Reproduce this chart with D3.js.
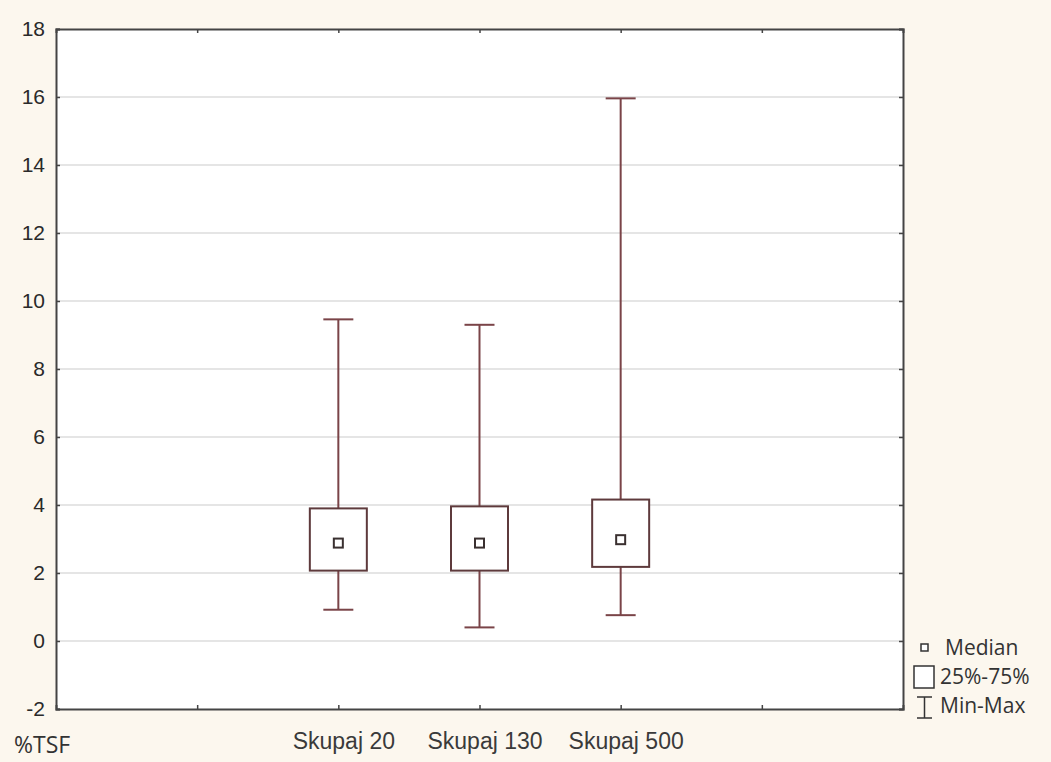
<!DOCTYPE html>
<html>
  <head>
    <meta charset="utf-8">
    <script src="https://d3js.org/d3.v7.min.js"></script>
    <style>
      body { margin: 0; background: #fcf7ee; }
      svg { display: block; font-family: "Open Sans", Arial, sans-serif; }
    </style>
  </head>
  <body>
    <div id="chart"></div>
  </body>
  <script>
    // data
    var groups  = ["Skupaj 20", "Skupaj 130", "Skupaj 500"];
    var mins    = [0.92, 0.40, 0.76];
    var q1s     = [2.07, 2.07, 2.18];
    var medians = [2.88, 2.88, 2.98];
    var q3s     = [3.90, 3.96, 4.16];
    var maxs    = [9.46, 9.30, 15.96];
    var yTicks  = [-2, 0, 2, 4, 6, 8, 10, 12, 14, 16, 18];
    var legendLabels = ["Median", "25%-75%", "Min-Max"];

    var width = 1051, height = 762;
    var margin = {top: 29, right: 148, bottom: 53, left: 56};
    var w = width - margin.left - margin.right,
        h = height - margin.top - margin.bottom;

    var boxColor = "#5e3a3c", whiskColor = "#7a4448";

    var svg = d3.select("#chart")
                .append("svg")
                  .attr("width", width)
                  .attr("height", height);

    var g = svg.append("g")
               .attr("transform", "translate(" + margin.left + "," + margin.top + ")");

    // x: 6 slots, groups sit on ticks 2..4
    var x = d3.scaleLinear().domain([0, 6]).range([0, w]);
    var y = d3.scaleLinear().domain([-2, 18]).range([h, 0]);

    g.append("rect")
     .attr("width", w).attr("height", h)
     .attr("fill", "#fff");

    // grid lines
    g.selectAll(".grid")
     .data(yTicks.slice(1, -1))
     .enter().append("line")
       .attr("x1", 0).attr("x2", w)
       .attr("y1", function(d) { return y(d); })
       .attr("y2", function(d) { return y(d); })
       .style("stroke", "#dcdcdc")
       .style("stroke-width", 1.5);

    // axes (inner ticks)
    var yAxis = d3.axisLeft(y).tickValues(yTicks).tickSize(-4).tickPadding(11)
                  .tickFormat(function(d) { return String(d); });
    var yAxisR = d3.axisRight(y).tickValues(yTicks).tickSize(-4).tickFormat("");
    var xTickVals = [1, 2, 3, 4, 5];
    var xAxis = d3.axisBottom(x).tickValues(xTickVals).tickSize(-4).tickPadding(24)
                  .tickFormat(function(d) { return groups[d - 2] || ""; });
    var xAxisT = d3.axisTop(x).tickValues(xTickVals).tickSize(-4).tickFormat("");

    var ya = g.append("g").call(yAxis);
    ya.selectAll("text").style("font-size", "21px").style("fill", "#2a2a2a");
    g.append("g").attr("transform", "translate(" + w + ",0)").call(yAxisR);
    var xa = g.append("g").attr("transform", "translate(0," + h + ")").call(xAxis);
    xa.selectAll("text").attr("dx", 5).style("font-size", "23px").style("fill", "#3a3a3a");
    g.append("g").call(xAxisT);

    g.selectAll(".domain").style("stroke", "#444").style("stroke-width", 2);
    g.selectAll(".tick line").style("stroke", "#444").style("stroke-width", 1.5);

    // boxes
    var data = groups.map(function(name, i) {
      return {name: name, pos: i + 2, min: mins[i], q1: q1s[i], med: medians[i], q3: q3s[i], max: maxs[i]};
    });

    var boxW = 57, capW = 30, medW = 9;
    var box = g.selectAll(".box")
               .data(data)
               .enter().append("g")
                 .attr("transform", function(d) { return "translate(" + x(d.pos) + ",0)"; });

    box.append("line")
       .attr("y1", function(d) { return y(d.max); })
       .attr("y2", function(d) { return y(d.q3); })
       .style("stroke", whiskColor).style("stroke-width", 2);
    box.append("line")
       .attr("y1", function(d) { return y(d.q1); })
       .attr("y2", function(d) { return y(d.min); })
       .style("stroke", whiskColor).style("stroke-width", 2);
    box.append("line")
       .attr("x1", -capW / 2).attr("x2", capW / 2)
       .attr("y1", function(d) { return y(d.max); })
       .attr("y2", function(d) { return y(d.max); })
       .style("stroke", whiskColor).style("stroke-width", 2);
    box.append("line")
       .attr("x1", -capW / 2).attr("x2", capW / 2)
       .attr("y1", function(d) { return y(d.min); })
       .attr("y2", function(d) { return y(d.min); })
       .style("stroke", whiskColor).style("stroke-width", 2);
    box.append("rect")
       .attr("x", -boxW / 2).attr("width", boxW)
       .attr("y", function(d) { return y(d.q3); })
       .attr("height", function(d) { return y(d.q1) - y(d.q3); })
       .attr("fill", "#fff")
       .style("stroke", boxColor).style("stroke-width", 2);
    box.append("rect")
       .attr("x", -medW / 2).attr("width", medW)
       .attr("y", function(d) { return y(d.med) - medW / 2; })
       .attr("height", medW)
       .attr("fill", "#fff")
       .style("stroke", "#3a3030").style("stroke-width", 2);

    // y title
    svg.append("text")
       .attr("x", 14).attr("y", 753)
       .text("%TSF")
       .style("font-size", "23px").style("fill", "#333");

    // legend
    var lg = svg.append("g").attr("transform", "translate(913,0)");
    lg.append("rect")
      .attr("x", 8).attr("y", 644).attr("width", 7).attr("height", 7)
      .attr("fill", "#fff").style("stroke", "#333").style("stroke-width", 1.5);
    lg.append("rect")
      .attr("x", 1).attr("y", 666).attr("width", 20).attr("height", 22)
      .attr("fill", "#fff").style("stroke", "#333").style("stroke-width", 1.5);
    lg.append("path")
      .attr("d", "M4,697H19M11.5,697V718M4,718H19")
      .attr("fill", "none").style("stroke", "#333").style("stroke-width", 1.5);
    lg.selectAll(".ltxt")
      .data(legendLabels)
      .enter().append("text")
        .attr("x", function(d, i) { return i == 0 ? 32 : 27; })
        .attr("y", function(d, i) { return 655 + i * 29; })
        .text(function(d) { return d; })
        .style("font-size", "21px").style("fill", "#333");
  </script>
</html>
